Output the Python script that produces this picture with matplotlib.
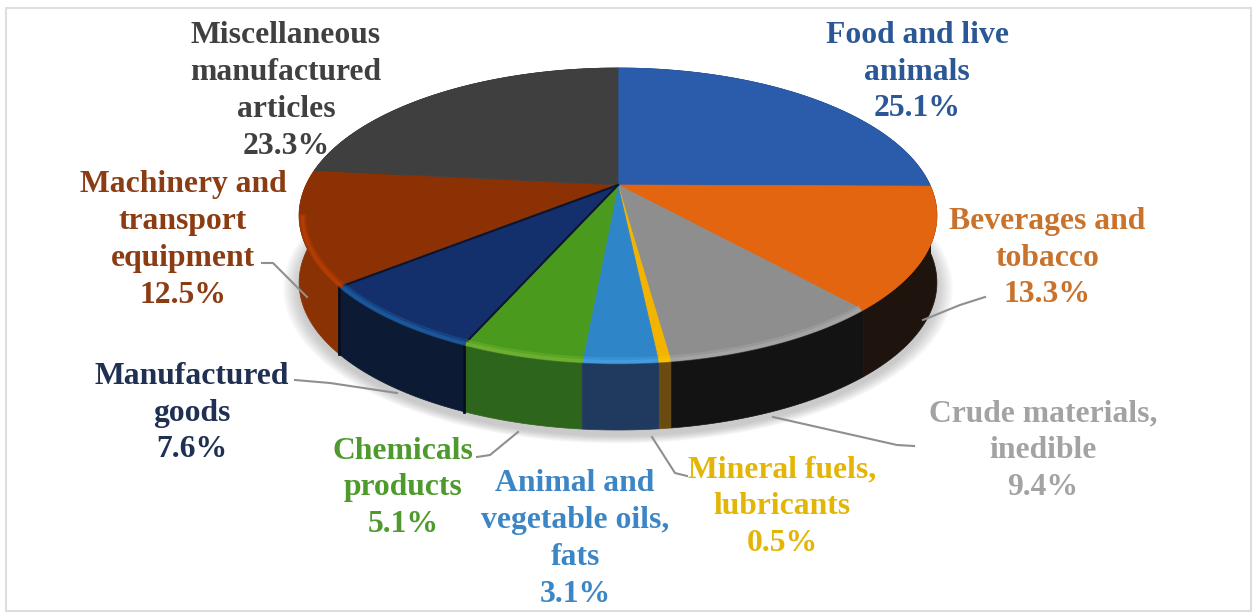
import numpy as np
import matplotlib
matplotlib.use("Agg")
import matplotlib.pyplot as plt
from matplotlib.patches import Polygon, Rectangle

# clockwise from 12 o'clock
categories = ["Food and live\nanimals", "Beverages and\ntobacco", "Crude materials,\ninedible",
              "Mineral fuels,\nlubricants", "Animal and\nvegetable oils,\nfats", "Chemicals\nproducts",
              "Manufactured\ngoods", "Machinery and\ntransport\nequipment",
              "Miscellaneous\nmanufactured\narticles"]
shares = [25.1, 13.3, 9.4, 0.5, 3.1, 5.1, 7.6, 12.5, 23.3]

top_colors = ["#2a5cab", "#e4650f", "#8e8e8e", "#f2b400", "#2e86c8", "#4a9a1e", "#14306c", "#8b3103", "#3f3f3f"]
side_colors = ["#16305a", "#1e130d", "#131313", "#6a4c12", "#1f3a5e", "#2e651d", "#0d1a33", "#8a3203", "#222222"]
rim_colors = ["#3a70c0", "#e4650f", "#a8a8a8", "#f7c400", "#46a0e0", "#72b432", "#1c5ca0", "#b83e02", "#555555"]
text_colors = ["#2b5797", "#c9722c", "#a3a3a3", "#e3b505", "#3d86c6", "#4f9a2c", "#1f3052", "#8c3c12", "#404040"]

# label centre in pixels
label_x = [917, 1047, 1043, 782, 575, 403, 192, 183, 286]
label_y = [72, 258, 451, 507, 539, 488, 413, 240, 91]

# leader lines in pixels
leaders = [
    ([985, 960, 923], [297, 305, 320]),
    ([914, 897, 773], [446, 445, 417]),
    ([687, 675, 652], [476, 473, 437]),
    ([477, 490, 518], [457, 455, 432]),
    ([295, 330, 397], [380, 383, 393]),
    ([262, 273, 307], [263, 263, 297]),
]

CX, CY = 618, 185
A, B, K = 312, 141.2, 0.2068
DEPTH = 67


def project(theta, r=1.0):
    # perspective view of the pie plane, theta clockwise from the top
    u = r * np.sin(theta)
    v = r * np.cos(theta)
    w = 1.0 / (1.0 + K * v)
    return CX + A * u * w, CY - B * v * w


fig = plt.figure(figsize=(12.58, 6.13), dpi=100)
ax = fig.add_axes([0, 0, 1, 1])
ax.set_xlim(0, 1258)
ax.set_ylim(613, 0)
ax.axis("off")

ax.add_patch(Rectangle((6, 8), 1245, 603, fill=False, edgecolor="#dedede", linewidth=1.5))

fracs = np.array(shares) / np.sum(shares)
edges = np.concatenate([[0], np.cumsum(fracs)]) * 2 * np.pi

# soft shadow under the disc
circle = np.linspace(0, 2 * np.pi, 240)
sx, sy = project(circle)
for grow in np.linspace(1.05, 1.0, 14):
    ax.add_patch(Polygon(np.column_stack([CX + (sx - CX) * grow, sy + DEPTH + 6 + (sy - 215) * (grow - 1)]),
                         facecolor="#7a7a7a", edgecolor="none", alpha=0.03, zorder=1))

# sides, far ones first
order = np.argsort(-np.cos((edges[:-1] + edges[1:]) / 2))
for i in order:
    t = np.linspace(edges[i], edges[i + 1], 80)
    x, y = project(t)
    pts = np.column_stack([np.r_[x, x[::-1]], np.r_[y, y[::-1] + DEPTH]])
    ax.add_patch(Polygon(pts, facecolor=side_colors[i], edgecolor=side_colors[i], linewidth=0.5, zorder=2))

# top faces
for i in range(len(shares)):
    t = np.linspace(edges[i], edges[i + 1], 80)
    x, y = project(t)
    pts = np.column_stack([np.r_[CX, x], np.r_[CY, y]])
    ax.add_patch(Polygon(pts, facecolor=top_colors[i], edgecolor=top_colors[i], linewidth=0.5, zorder=3))

# dark seams around the navy slice
for e in (edges[6], edges[7]):
    x, y = project(e)
    ax.plot([CX, x], [CY, y], color="#0a1530", linewidth=1.5, zorder=4)
    ax.plot([x, x], [y, y + DEPTH], color="#070d1c", linewidth=2, zorder=4)

# lit bevel along the front rim
for i in range(len(shares)):
    t = np.linspace(edges[i], edges[i + 1], 80)
    t = t[np.cos(t) < -0.2]
    if len(t) < 2:
        continue
    x, y = project(t, 0.99)
    ax.plot(x, y, color=rim_colors[i], linewidth=5, alpha=0.45, solid_capstyle="butt", zorder=4)
    ax.plot(x, y + 1, color=rim_colors[i], linewidth=2.5, alpha=0.8, solid_capstyle="butt", zorder=4)

for lx, ly in leaders:
    ax.plot(lx, ly, color="#8f8f8f", linewidth=1.5, zorder=5)

for i, name in enumerate(categories):
    ax.text(label_x[i], label_y[i], "%s\n%.1f%%" % (name, shares[i]), color=text_colors[i],
            family="Liberation Serif", fontweight="bold", fontsize=22.8, ha="center", va="center",
            linespacing=1.35, zorder=6)

fig.savefig("out.png", dpi=100)
